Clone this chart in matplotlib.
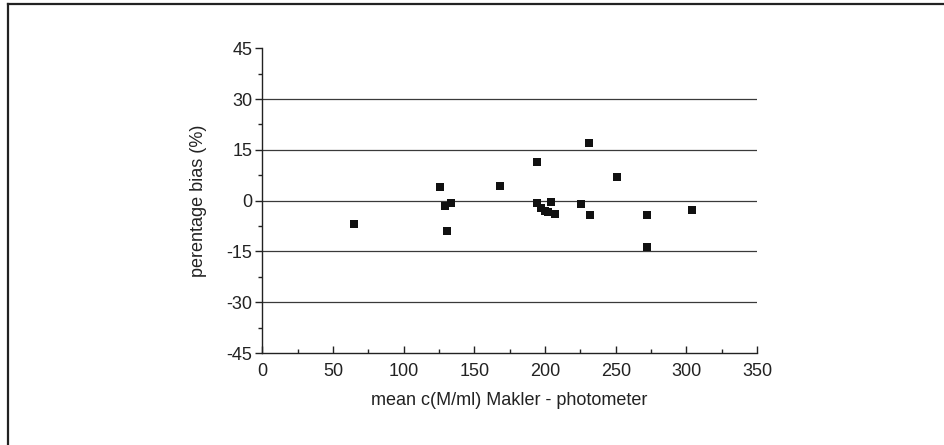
import matplotlib
matplotlib.use("Agg")
import matplotlib.pyplot as plt
from matplotlib.lines import Line2D
from matplotlib.ticker import MultipleLocator

plt.rcParams["font.family"] = ["Liberation Sans", "DejaVu Sans"]
plt.rcParams["axes.unicode_minus"] = False

# mean concentration (M/ml) and percentage bias
mean_conc = [65, 125.5, 129, 133.5, 131, 168, 194, 194, 197, 200,
             202, 204, 207, 225.5, 231, 232, 251, 272, 272.5, 304]
bias_pct = [-7.0, 4.1, -1.5, -0.7, -8.9, 4.2, 11.5, -0.7, -2.1, -3.0,
            -3.4, -0.3, -4.0, -1.1, 16.9, -4.3, 7.1, -4.3, -13.7, -2.7]

x_ticks = [0, 50, 100, 150, 200, 250, 300, 350]
y_ticks = [-45, -30, -15, 0, 15, 30, 45]
grid_levels = [-30, -15, 0, 15, 30]

fig = plt.figure(figsize=(9.45, 4.45), dpi=100)
fig.patch.set_facecolor("white")
ax = fig.add_axes([0.2776, 0.2067, 0.5235, 0.6848])

for lvl in grid_levels:
    ax.axhline(lvl, color="#3a3a3a", linewidth=0.9, zorder=1)

ax.scatter(mean_conc, bias_pct, marker="s", s=28, color="#111111",
           linewidths=0, zorder=3)

ax.set_xlim(0, 350)
ax.set_ylim(-45, 45)
ax.set_xticks(x_ticks)
ax.set_yticks(y_ticks)
ax.xaxis.set_minor_locator(MultipleLocator(25))
ax.yaxis.set_minor_locator(MultipleLocator(7.5))

for side in ("top", "right"):
    ax.spines[side].set_visible(False)
for side in ("left", "bottom"):
    ax.spines[side].set_color("#222222")
    ax.spines[side].set_linewidth(1.0)

ax.tick_params(axis="x", which="major", direction="in", length=5, width=1,
               labelsize=13, pad=7, colors="#222222")
ax.tick_params(axis="x", which="minor", direction="in", length=3, width=1,
               colors="#222222")
ax.tick_params(axis="y", which="major", direction="out", length=5, width=1,
               labelsize=13, pad=2, colors="#222222")
ax.tick_params(axis="y", which="minor", direction="out", length=3, width=1,
               colors="#222222")

ax.set_xlabel("mean c(M/ml) Makler - photometer", fontsize=13, color="#222222",
              labelpad=9)
ax.set_ylabel("perentage bias (%)", fontsize=13, color="#222222", labelpad=14)

# partial frame around the figure (top and left edges only)
fig.add_artist(Line2D([8 / 945, 1.0], [1 - 3.5 / 445, 1 - 3.5 / 445],
                      transform=fig.transFigure, color="#222222", linewidth=1.6))
fig.add_artist(Line2D([8 / 945, 8 / 945], [0.0, 1 - 3.5 / 445],
                      transform=fig.transFigure, color="#222222", linewidth=1.6))

fig.savefig("out.png", dpi=100)
